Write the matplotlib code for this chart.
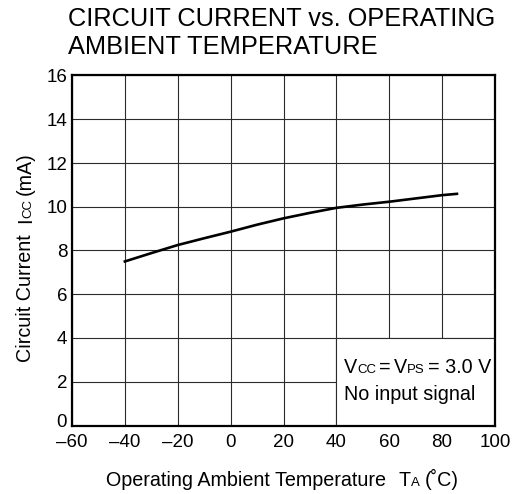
import matplotlib
matplotlib.use("Agg")
import matplotlib.pyplot as plt
from matplotlib.patches import Rectangle
from matplotlib.transforms import IdentityTransform

plt.rcParams['font.family'] = ['Liberation Sans', 'DejaVu Sans']

# data
temps = [-40, -30, -20, -10, 0, 10, 20, 30, 40, 50, 60, 70, 80, 85.6]
icc = [7.5, 7.88, 8.25, 8.56, 8.86, 9.18, 9.47, 9.72, 9.95, 10.1, 10.23, 10.38, 10.53, 10.59]
xticks = list(range(-60, 101, 20))
yticks = list(range(0, 17, 2))
title_lines = ["CIRCUIT CURRENT vs. OPERATING", "AMBIENT TEMPERATURE"]

W, H = 513, 494
fig = plt.figure(figsize=(W / 100, H / 100), dpi=100)
ax = fig.add_axes([72 / W, 1 - 425.5 / H, (495 - 72) / W, (425.5 - 75.5) / H])
renderer = fig.canvas.get_renderer()

GRID = '#2b2b2b'
BIG, SMALL = 14.2, 9.5
TICK = 13.5

ax.set_xlim(-60, 100)
ax.set_ylim(0, 16)
ax.set_xticks(xticks)
ax.set_yticks(yticks)
ax.tick_params(length=0, labelsize=TICK)
ax.tick_params(axis='x', pad=6)
ax.tick_params(axis='y', pad=3.5)
ax.set_xticklabels([f"{t}" if t >= 0 else f"\u2013{-t}" for t in xticks])
# the "0" sits a bit above the corner so it clears "-60"
ax.set_yticklabels(["" if t == 0 else f"{t}" for t in yticks])
ax.annotate("0", xy=(-60, 0), xytext=(-5, -1.5), textcoords='offset pixels',
            ha='right', va='baseline', fontsize=TICK, annotation_clip=False)
ax.grid(color=GRID, lw=0.8)
ax.set_axisbelow(True)
for s in ax.spines.values():
    s.set_linewidth(1.6)

# condition box (covers grid in the lower right corner)
ax.add_patch(Rectangle((40, 0), 60, 4, facecolor='white', edgecolor=GRID, lw=0.8, zorder=2))

ax.plot(temps, icc, color='black', lw=1.9, zorder=3)


def measure(s, size):
    t = fig.text(0, 0, s, fontsize=size)
    w = t.get_window_extent(renderer).width
    t.remove()
    return w


def rich_text(x, y, parts, rotation=0, center=False):
    # parts: list of (string, size) or a number for a pixel gap; x, y in pixels from top-left
    total = sum(p if isinstance(p, (int, float)) else measure(*p) for p in parts)
    pos = 0 - (total / 2 if center else 0)
    for p in parts:
        if isinstance(p, (int, float)):
            pos += p
            continue
        s, size = p
        if rotation:
            fig.text(x, H - y + pos, s, fontsize=size, rotation=90, rotation_mode='anchor',
                     ha='left', va='baseline', transform=IdentityTransform())
        else:
            fig.text(x + pos, H - y, s, fontsize=size, ha='left', va='baseline',
                     transform=IdentityTransform())
        pos += measure(s, size)


for i, line in enumerate(title_lines):
    fig.text(68, H - 26 - 28 * i, line, fontsize=18.3, va='baseline', transform=IdentityTransform())

rich_text(31, 257, [("Circuit Current", BIG), 11, ("I", BIG), ("CC", SMALL), 4, ("(mA)", BIG)],
          rotation=90, center=True)
rich_text(282, 485.5, [("Operating Ambient Temperature", BIG), 13, ("T", BIG), ("A", SMALL), 5, ("(\u02daC)", BIG)],
          center=True)
rich_text(344, 372.5, [("V", BIG), ("CC", SMALL), 3, ("=", BIG), 3, ("V", BIG), ("PS", SMALL), 3, ("= 3.0 V", BIG)])
rich_text(344, 400, [("No input signal", BIG)])

fig.savefig("out.png", dpi=100)
